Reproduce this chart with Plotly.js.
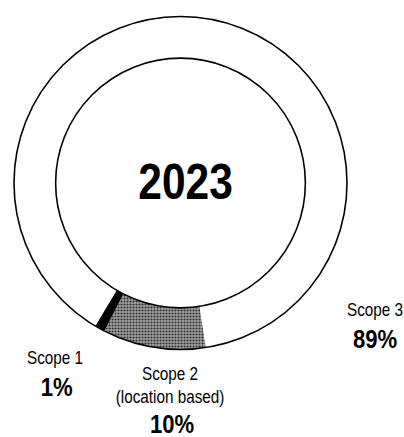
<!DOCTYPE html>
<html>
<head>
<meta charset="utf-8">
<script src="https://cdn.plot.ly/plotly-3.0.1.min.js"></script>
<style>
html,body{margin:0;padding:0;background:#fff;}
#chart{width:404px;height:437px;}
#chart text.annotation-text{transform-box:fill-box;transform-origin:50% 50%;transform:scaleX(0.85);}
</style>
</head>
<body>
<div id="chart"></div>
<script>
// Data
const labels = ["Scope 2", "Scope 1", "Scope 3"];
const values = [10, 1, 89];
const nameTexts = ["Scope 2<br>(location based)", "Scope 1", "Scope 3"];
const pctTexts = ["10%", "1%", "89%"];
const centerText = "2023";

const FONT = "'Liberation Sans', Arial, sans-serif";
const W = 404, H = 437;
const cx = 180.5, cy = 183, R = 166.5;
const domain = {x: [(cx - R) / W, (cx + R) / W], y: [1 - (cy + R) / H, 1 - (cy - R) / H]};

const total = values.reduce((a, b) => a + b, 0);

const pie = {
  type: 'pie',
  labels: labels,
  values: values,
  sort: false,
  direction: 'clockwise',
  rotation: 171.2,
  hole: 0.75,
  domain: domain,
  textinfo: 'none',
  hoverinfo: 'none',
  showlegend: false,
  marker: {
    colors: ['#8f8f8f', '#000000', '#ffffff'],
    line: {width: 0},
    pattern: {shape: ['.', '', ''], fgcolor: '#2a2a2a', bgcolor: '#a4a4a4', size: 3, solidity: 0.4}
  }
};

const outline = {
  type: 'pie',
  labels: ['ring'],
  values: [total],
  sort: false,
  hole: 0.75,
  domain: domain,
  textinfo: 'none',
  hoverinfo: 'none',
  showlegend: false,
  marker: {colors: ['rgba(0,0,0,0)'], line: {color: '#000', width: 1.6}}
};

// label positions (pixel centers)
const namePos = [[170, 385], [55, 358], [375, 310]];
const pctPos = [[172, 424], [57, 387], [375, 339]];

const annotations = [];
for (let i = 0; i < labels.length; i++) {
  annotations.push({
    text: nameTexts[i], xref: 'paper', yref: 'paper',
    x: namePos[i][0] / W, y: 1 - namePos[i][1] / H,
    xanchor: 'center', yanchor: 'middle', showarrow: false,
    font: {family: FONT, size: 18, color: '#000'}
  });
  annotations.push({
    text: '<b>' + pctTexts[i] + '</b>', xref: 'paper', yref: 'paper',
    x: pctPos[i][0] / W, y: 1 - pctPos[i][1] / H,
    xanchor: 'center', yanchor: 'middle', showarrow: false,
    font: {family: FONT, size: 26, color: '#000'}
  });
}
annotations.push({
  text: '<b>' + centerText + '</b>', xref: 'paper', yref: 'paper',
  x: 185 / W, y: 1 - 182 / H, xanchor: 'center', yanchor: 'middle', showarrow: false,
  font: {family: FONT, size: 50, color: '#000'}
});

Plotly.newPlot('chart', [pie, outline], {
  width: W, height: H,
  margin: {l: 0, r: 0, t: 0, b: 0},
  paper_bgcolor: '#fff', plot_bgcolor: '#fff',
  annotations: annotations
}, {staticPlot: true});
</script>
</body>
</html>
